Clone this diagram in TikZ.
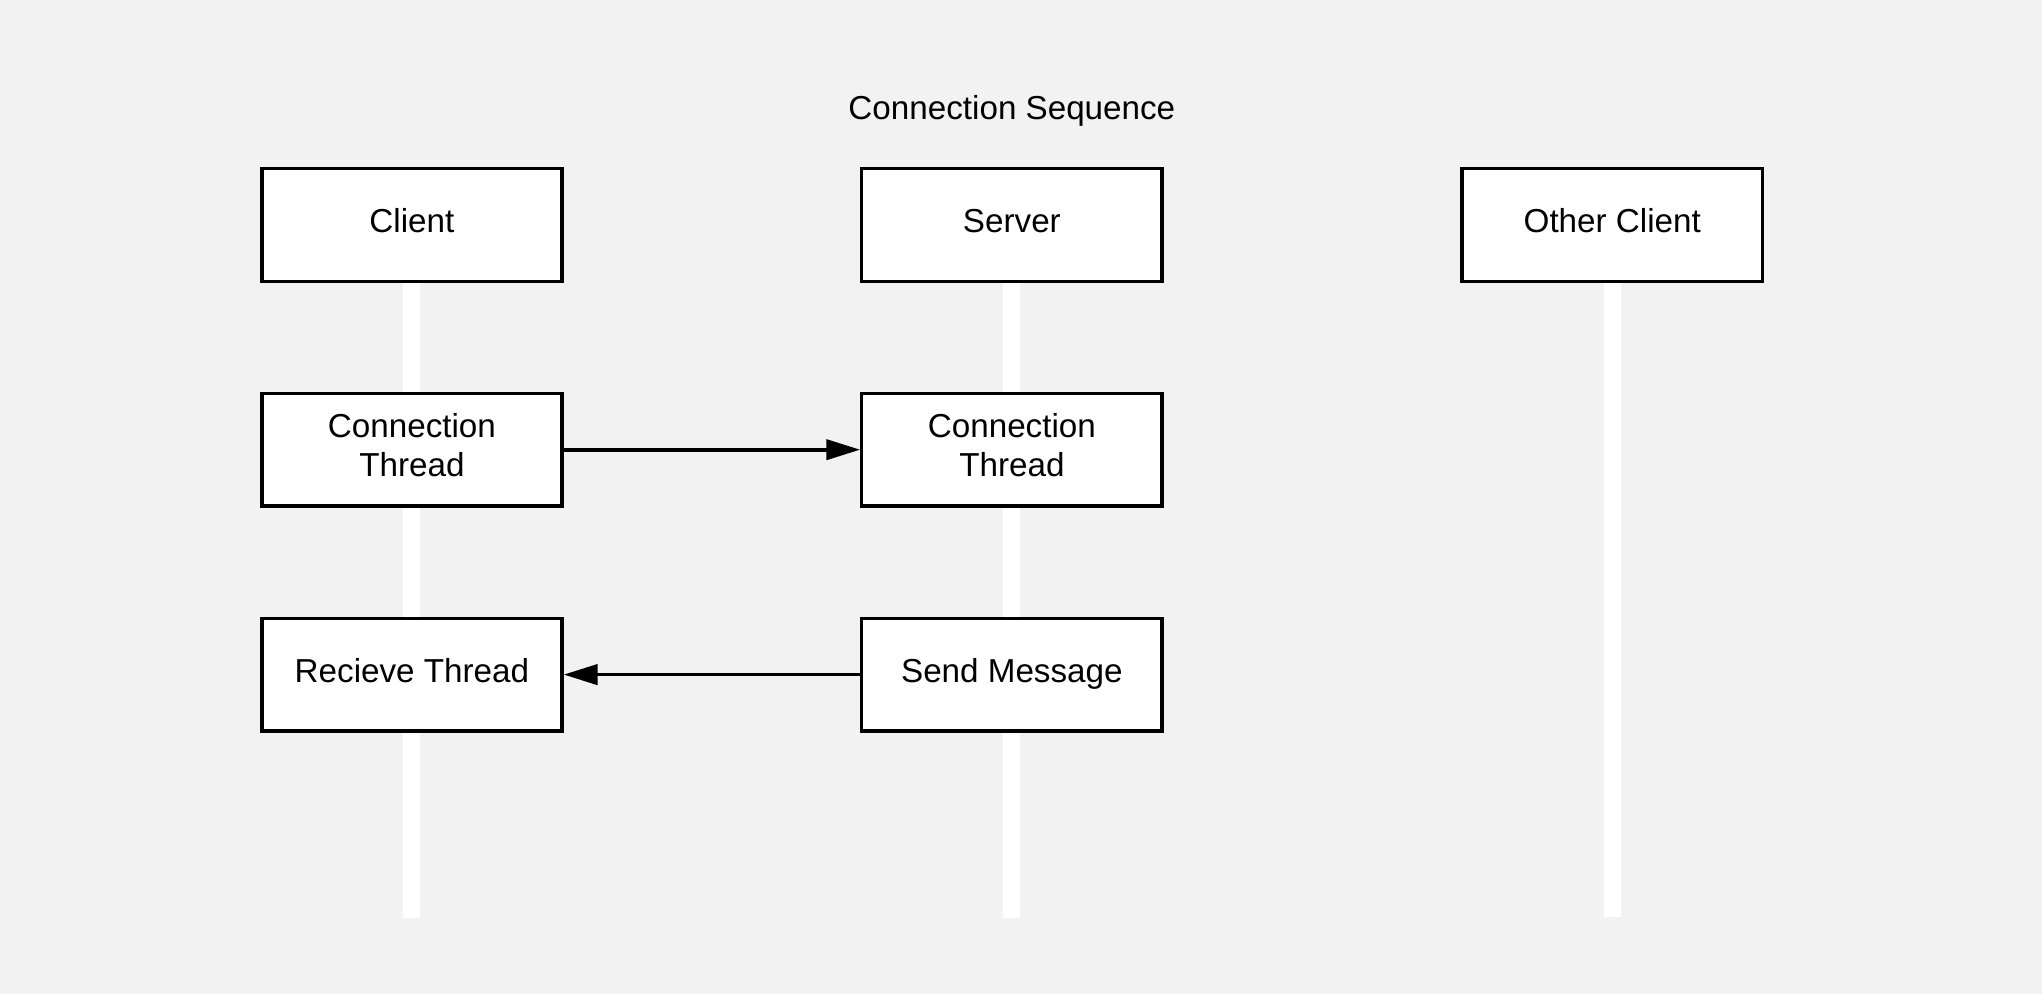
\documentclass[tikz,border=0pt]{standalone}
\usepackage{fontspec}
\setmainfont{Liberation Sans}
\usetikzlibrary{arrows.meta}
\definecolor{canvas}{HTML}{F2F2F2}

\tikzset{
    actor/.style={draw, fill=white, line width=2.6pt, minimum width=230.5pt, minimum height=86.5pt,
        inner sep=0pt, align=center, text depth=7.1pt, font=\fontsize{25.5}{30.5}\selectfont},
    lifeline/.style={white, line width=13pt},
    msg/.style={line width=2.8pt, -{Triangle[length=26pt, width=15.5pt]}}
}

\begin{document}
\begin{tikzpicture}[x=1pt, y=-1pt]
        \fill[canvas] (0, 0) rectangle (1568, 763);
        \useasboundingbox (0, 0) rectangle (1568, 763);

        \node[font=\fontsize{25.5}{30.5}\selectfont] (title) at (777, 85) {Connection Sequence};

        \node[actor] (client) at (316.3, 172.8) {Client};
        \node[actor] (server) at (777, 172.8) {Server};
        \node[actor] (other) at (1238, 172.8) {Other Client};

        \coordinate (clientend) at (316.3, 705);
        \coordinate (serverend) at (777, 705);
        \coordinate (otherend) at (1238, 704);
        \draw [lifeline] (client.south) -- (clientend);
        \draw [lifeline] (server.south) -- (serverend);
        \draw [lifeline] (other.south) -- (otherend);

        \node[actor] (clientconn) at (316.3, 345.3) {Connection\\Thread};
        \node[actor] (serverconn) at (777, 345.3) {Connection\\Thread};
        \node[actor] (recv) at (316.3, 518) {Recieve Thread};
        \node[actor] (send) at (777, 518) {Send Message};

        \draw [msg] (clientconn) -- (serverconn);
        \draw [msg] (send) -- (recv);
    \end{tikzpicture}
\end{document}
